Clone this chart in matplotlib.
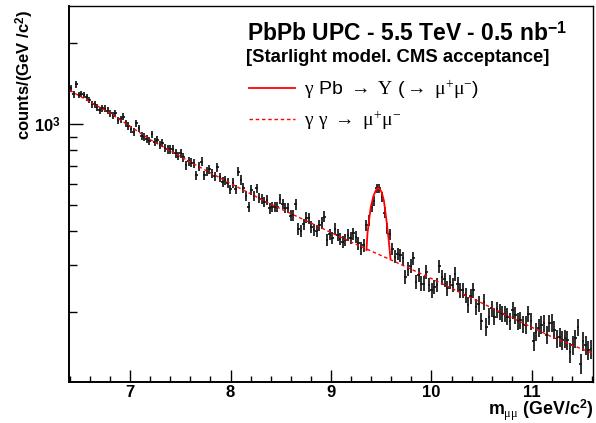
import numpy as np
import matplotlib
matplotlib.use('Agg')
import matplotlib.pyplot as plt
from matplotlib.ticker import FixedLocator, MultipleLocator, NullFormatter

plt.rcParams['font.family'] = ['Liberation Sans', 'DejaVu Sans']
plt.rcParams['mathtext.fontset'] = 'custom'
plt.rcParams['mathtext.rm'] = 'Liberation Serif'
plt.rcParams['mathtext.it'] = 'Liberation Serif:italic'
plt.rcParams['mathtext.bf'] = 'Liberation Sans:bold'

# ---------------- data ----------------
m_min, m_max, n_bins = 6.4, 11.6, 200

counts = [
    1361, 1293, 1408, 1285, 1296, 1285, 1260, 1231, 1187, 1187,
    1157, 1130, 1147, 1143, 1124, 1099, 1076, 1099, 1037, 1046,
    1067, 1009, 986, 958, 939, 1009, 966, 907, 899, 880,
    867, 918, 862, 874, 838, 854, 820, 807, 807, 807,
    780, 762, 780, 754, 706, 730, 720, 716, 648, 696,
    726, 648, 670, 680, 657, 642, 692, 635, 612, 620,
    607, 573, 607, 573, 667, 621, 581, 540, 494, 570,
    543, 578, 531, 528, 515, 523, 487, 494, 494, 494,
    528, 505, 490, 490, 457, 460, 504, 408, 401, 425,
    450, 447, 416, 405, 401, 422, 430, 453, 371, 390,
    377, 408, 388, 375, 366, 371, 388, 377, 393, 382,
    361, 346, 355, 422, 441, 494, 519, 578, 578, 538,
    470, 411, 390, 344, 322, 330, 327, 318, 271, 291,
    298, 318, 260, 275, 256, 256, 283, 253, 242, 249,
    253, 297, 270, 265, 246, 260, 253, 278, 255, 242,
    242, 232, 213, 230, 242, 210, 215, 185, 219, 177,
    193, 207, 193, 205, 201, 198, 198, 193, 185, 204,
    195, 185, 187, 181, 180, 198, 185, 156, 169, 175,
    180, 182, 165, 182, 183, 172, 160, 162, 158, 160,
    158, 142, 151, 160, 176, 129, 156, 151, 145, 146,
]

# gamma gamma -> mu mu continuum (red dashed)
cont_mass = [6.4, 6.8, 7.2, 7.6, 8.0, 8.4, 8.8, 9.2, 9.6, 10.0, 10.4, 10.8, 11.2, 11.6]
cont_vals = [1337, 1102, 878, 724, 603, 505, 430, 365, 313, 267, 226, 191, 162, 141]

# Upsilon peak on top of continuum (red solid)
peak_mass = [9.353, 9.363, 9.378, 9.395, 9.423, 9.455, 9.478, 9.504, 9.527, 9.554, 9.572, 9.592]
peak_vals = [341, 394, 437, 491, 543, 577, 580, 560, 519, 433, 378, 316]

x_major = [7, 8, 9, 10, 11]
x_major_labels = ['7', '8', '9', '10', '11']
y_major = [1000]
y_major_labels = [r'10$^{\mathbf{3}}$']
y_minor = [200, 300, 400, 500, 600, 700, 800, 900, 2000]

title_text = r'PbPb UPC - 5.5 TeV - 0.5 nb$^{\mathbf{-1}}$'
subtitle_text = '[Starlight model. CMS acceptance]'
label_peak = r'$\mathrm{\gamma}$ Pb $\mathrm{\rightarrow}$ $\mathrm{\Upsilon}$ ($\mathrm{\rightarrow}$ $\mathrm{\mu^{+}\mu^{-}}$)'
label_cont = r'$\mathrm{\gamma}$ $\mathrm{\gamma}$ $\mathrm{\rightarrow}$ $\mathrm{\mu^{+}\mu^{-}}$'
xlabel_text = r'm$_{\mathrm{\mu\mu}}$ (GeV/c$^{\mathbf{2}}$)'
ylabel_text = r'counts/(GeV /c$^{\mathbf{2}}$)'

# ---------------- figure ----------------
W, H = 596, 423
fig = plt.figure(figsize=(W / 100, H / 100), dpi=100)
ax = fig.add_axes([68.5 / W, 1 - 382 / H, (593 - 68.5) / W, (382 - 6) / H])

edges = np.linspace(m_min, m_max, n_bins + 1)
centers = 0.5 * (edges[:-1] + edges[1:])
vals = np.array(counts, dtype=float)
ax.errorbar(centers, vals, yerr=np.sqrt(vals), xerr=0.5 * (edges[1] - edges[0]),
            fmt='none', ecolor='#151515', elinewidth=1.25, capsize=0, zorder=2)

l_cont, = ax.plot(cont_mass, cont_vals, color='#ff0000', lw=1.0,
                  linestyle=(0, (2.5, 2.0)), zorder=3, label=label_cont)
l_peak, = ax.plot(peak_mass, peak_vals, color='#ff0000', lw=1.3,
                  zorder=4, label=label_peak)

ax.set_yscale('log')
ax.set_xlim(6.388, 11.607)
ax.set_ylim(110.2, 2754)

ax.xaxis.set_major_locator(FixedLocator(x_major))
ax.set_xticklabels(x_major_labels)
ax.xaxis.set_minor_locator(MultipleLocator(0.2))
ax.yaxis.set_major_locator(FixedLocator(y_major))
ax.set_yticklabels(y_major_labels)
ax.yaxis.set_minor_locator(FixedLocator(y_minor))
ax.yaxis.set_minor_formatter(NullFormatter())

ax.tick_params(axis='x', which='major', direction='in', length=8.8, width=1.0,
               pad=1.8, labelsize=12, top=False)
ax.tick_params(axis='x', which='minor', direction='in', length=4.5, width=1.0, top=False)
ax.tick_params(axis='y', which='major', direction='in', length=10, width=1.0,
               pad=5.5, labelsize=12, right=False)
ax.tick_params(axis='y', which='minor', direction='in', length=5.5, width=1.0, right=False)
for lab in ax.get_xticklabels() + ax.get_yticklabels():
    lab.set_fontweight('bold')

ax.spines['left'].set_linewidth(1.4)
ax.spines['bottom'].set_linewidth(1.4)
ax.spines['top'].set_linewidth(1.0)
ax.spines['right'].set_linewidth(1.0)

fig.text(247 / W, 1 - 40.7 / H, title_text, ha='left', va='baseline',
         fontsize=16.5, fontweight='bold')
fig.text(246 / W, 1 - 61.5 / H, subtitle_text, ha='left', va='baseline',
         fontsize=13.3, fontweight='bold')

ax.legend(handles=[l_peak, l_cont], loc='upper left',
          bbox_to_anchor=(249 / W, 1 - 78 / H), bbox_transform=fig.transFigure,
          frameon=False, borderpad=0, borderaxespad=0, fontsize=14,
          handlelength=2.35, handletextpad=0.5, labelspacing=0.45)

fig.text(593 / W, 1 - 422.8 / H, xlabel_text, ha='right', va='bottom',
         fontsize=12.8, fontweight='bold')
fig.text(30.5 / W, 1 - 10 / H, ylabel_text, rotation=90, rotation_mode='anchor',
         ha='right', va='baseline', fontsize=12, fontweight='bold')

fig.savefig('out.png', dpi=100)
